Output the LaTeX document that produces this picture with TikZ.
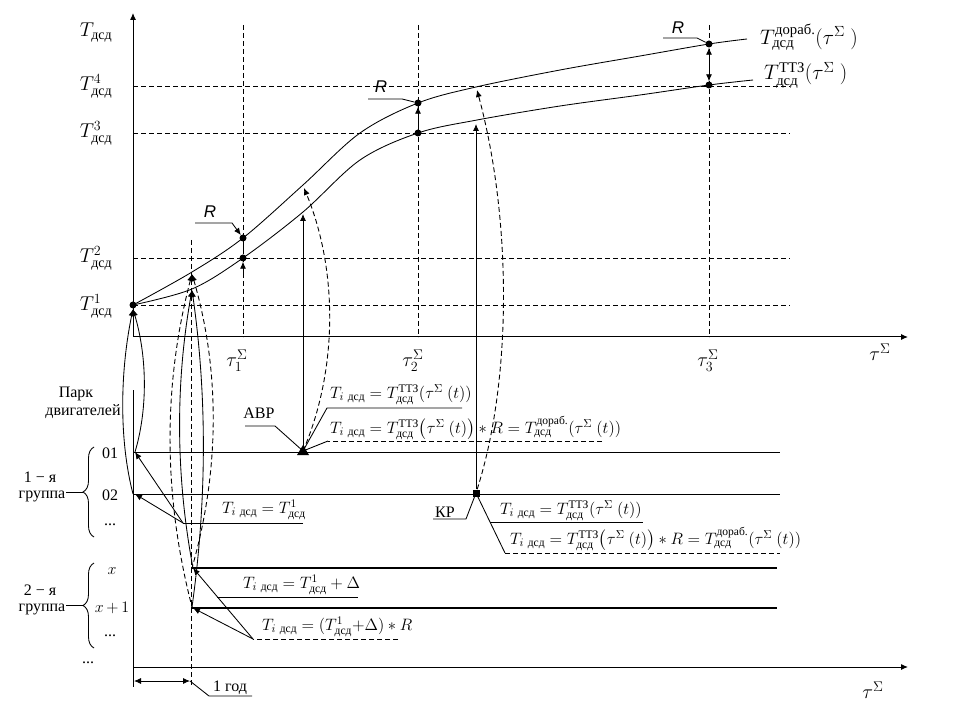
\RequirePackage{fix-cm}
\documentclass[tikz,border=0pt]{standalone}
\usepackage{amsmath}
\usepackage{fontspec}
\setmainfont{Liberation Serif}
\newfontfamily\rfont{Liberation Sans}
\usetikzlibrary{arrows.meta,decorations.pathreplacing}
\newcommand{\ds}{\text{дсд}}
\newcommand{\ttz}{\text{ТТЗ}}
\newcommand{\dor}{\text{дораб.}}
\begin{document}
\begin{tikzpicture}[x=1pt,y=-1pt,
  ax/.style={line width=1pt},
  dsh/.style={dash pattern=on 5pt off 3pt,line width=0.9pt},
  ln/.style={line width=0.85pt},
  thk/.style={line width=1.4pt},
  tip/.style={-{Latex[length=7pt,width=6pt]}},
  rtip/.style={{Latex[length=7pt,width=6pt]}-},
  dtip/.style={{Latex[length=7pt,width=6pt]}-{Latex[length=7pt,width=6pt]}},
  dot/.style={circle,fill,inner sep=0pt,minimum size=7pt},
  lbl/.style={inner sep=0pt,font=\fontsize{20}{22}\selectfont},
  clbl/.style={inner sep=0pt,anchor=west,font=\fontsize{21}{23}\selectfont},
  fml/.style={inner sep=0pt,anchor=base west,font=\fontsize{16.5}{18}\selectfont},
  txt/.style={inner sep=0pt,font=\fontsize{16}{18}\selectfont},
  rlab/.style={inner sep=0pt,font=\fontsize{17}{19}\selectfont\rfont\itshape},
  brc/.style={line width=0.85pt,decorate,decoration={brace,amplitude=11pt,mirror}},
]
\useasboundingbox (0,0) rectangle (956,727);
% ---------- coordinates ----------
\coordinate (O) at (133,337);
\coordinate (Ytop) at (133,13);
\coordinate (Xend) at (908,337);
\coordinate (P0) at (133,390);
\coordinate (P1) at (133,687);
\coordinate (B0) at (133,667);
\coordinate (Bend) at (908,667);
% ---------- axes ----------
\draw[ax,tip] (O) -- (Ytop);
\draw[ax,tip] (O) -- (Xend);
\draw[ax] (P0) -- (P1);
\draw[ax,tip] (B0) -- (Bend);
% ---------- axis labels ----------
\node[lbl] (tl) at (96,33) {$T_{\ds}$};
\node[lbl] (t4) at (96,86) {$T^{4}_{\ds}$};
\node[lbl] (t3) at (96,133) {$T^{3}_{\ds}$};
\node[lbl] (t2) at (96,258) {$T^{2}_{\ds}$};
\node[lbl] (t1) at (96,306) {$T^{1}_{\ds}$};
\node[lbl] (tau1) at (237,361) {$\tau^{\Sigma}_{1}$};
\node[lbl] (tau2) at (413,361) {$\tau^{\Sigma}_{2}$};
\node[lbl] (tau3) at (708,361) {$\tau^{\Sigma}_{3}$};
\node[lbl] (tauX) at (880,352) {$\tau^{\Sigma}$};
\node[lbl] (tauB) at (873,690) {$\tau^{\Sigma}$};
% ---------- dashed grid ----------
\draw[dsh] (133,86) -- (790,86);
\draw[dsh] (133,133) -- (790,133);
\draw[dsh] (133,258) -- (790,258);
\draw[dsh] (133,305) -- (790,305);
\draw[dsh] (243,25) -- (243,337);
\draw[dsh] (418,25) -- (418,337);
\draw[dsh] (709,25) -- (709,337);
\draw[dsh] (191,240) -- (191,686);
% ---------- curves ----------
\draw[ln] plot[smooth,tension=0.55] coordinates {(133,305) (192,272) (243,238) (303,185) (360,133) (418,103) (476,87) (560,70) (640,56) (709,44) (747,39)};
\draw[ln] plot[smooth,tension=0.55] coordinates {(133,305) (192,289) (243,258) (303,212) (360,160) (418,133) (477,120) (560,106) (640,95) (709,85) (753,80)};
\node[clbl] (cu) at (760,37) {$T^{\dor}_{\ds}(\tau^{\Sigma}\ )$};
\node[clbl] (cl) at (764,75) {$T^{\ttz}_{\ds}(\tau^{\Sigma}\ )$};
% ---------- points ----------
\node[dot] (a0) at (133,305) {};
\node[dot] (u1) at (243,238) {};
\node[dot] (l1) at (243,258) {};
\node[dot] (u2) at (418,103) {};
\node[dot] (l2) at (418,133) {};
\node[dot] (u3) at (709,44) {};
\node[dot] (l3) at (709,85) {};
\coordinate (uy) at (192,274);
\coordinate (ly) at (192,290);
% tau1
\draw[ln] (u1) -- (l1);
\coordinate (b1) at (243,278);
\draw[ln,tip] (b1) -- (l1);
\node[rlab] (R1) at (210,212) {R};
\coordinate (r1a) at (195,223);
\coordinate (r1b) at (232,223);
\draw[ln,tip] (r1a) -- (r1b) -- (u1);
% tau2
\draw[ln,tip] (l2) -- (u2);
\node[rlab] (R2) at (381,87) {R};
\coordinate (r2a) at (368,99);
\coordinate (r2b) at (402,99);
\draw[ln] (r2a) -- (r2b) -- (u2);
% tau3
\draw[ln,dtip] (u3) -- (l3);
\node[rlab] (R3) at (678,28) {R};
\coordinate (r3a) at (663,38);
\coordinate (r3b) at (697,38);
\draw[ln] (r3a) -- (r3b) -- (u3);
% ---------- park ----------
\node[txt] (park1) at (76,394) {Парк};
\node[txt] (park2) at (83,412) {двигателей};
\node[txt] (g1a) at (40,477) {1 − я};
\node[txt] (g1b) at (42,496) {группа};
\node[txt] (g2a) at (40,590) {2 − я};
\node[txt] (g2b) at (42,609) {группа};
\draw[brc] (94,447) -- (94,537);
\draw[ln] (83,492) -- (66,492);
\draw[brc] (94,563) -- (94,648);
\draw[ln] (83,605.5) -- (66,605.5);
\node[txt] (n01) at (110,453) {01};
\node[txt] (n02) at (110,495) {02};
\node[txt] (nd1) at (110,525) {...};
\node[txt] (nx) at (112,571) {$x$};
\node[txt] (nx1) at (112,608) {$x\,{+}\,1$};
\node[txt] (nd2) at (110,636) {...};
\node[txt] (nd3) at (88,663) {...};
% rows
\coordinate (r01) at (135,452);
\coordinate (r02) at (135,494);
\coordinate (rx) at (193,568);
\coordinate (rx1) at (193,608);
\draw[ln] (133,452) -- (780,452);
\draw[ln] (133,494) -- (780,494);
\draw[thk] (191,568) -- (777,568);
\draw[thk] (191,608) -- (777,608);
% ---------- lenses ----------
\coordinate (a0b) at (133,309);
\draw[ln,rtip] (a0b) .. controls (148,360) and (147,412) .. (r01);
\draw[ln,rtip] (a0b) .. controls (120,372) and (119,440) .. (133,494);
\draw[ln,rtip] (ly) .. controls (175,385) and (176,478) .. (rx);
\draw[ln,rtip] (ly) .. controls (207,395) and (207,500) .. (192,607);
\draw[dsh,rtip] (uy) .. controls (163,385) and (163,495) .. (192,607);
\draw[dsh,rtip] (uy) .. controls (220,370) and (220,470) .. (192,568);
% ---------- group 1 formula ----------
\node[fml] (f1) at (222,513) {$T_{i\ \ds}=T^{1}_{\ds}$};
\coordinate (g1) at (183,523);
\draw[ln] (303,523) -- (g1);
\draw[ln,tip] (g1) -- (r01);
\draw[ln,tip] (g1) -- (r02);
% ---------- group 2 formulas ----------
\node[fml] (f2) at (243,588) {$T_{i\ \ds}=T^{1}_{\ds}+\Delta$};
\node[fml] (f3) at (262,630) {$T_{i\ \ds}=(T^{1}_{\ds}{+}\Delta)*R$};
\coordinate (g2) at (253,639);
\draw[dsh] (398,639) -- (g2);
\draw[ln,tip] (g2) -- (rx);
\draw[ln,tip] (g2) -- (rx1);
\draw[ln] (217,597) -- (358,597);
% ---------- 1 year ----------
\coordinate (y0) at (134,681);
\coordinate (y1) at (190,681);
\draw[ln,dtip] (y0) -- (y1);
\node[txt] (yr) at (230,688) {1 год};
\draw[ln] (y1) -- (209,696) -- (252,696);
% ---------- ABP ----------
\coordinate (abp) at (303,451);
\fill (297,455) -- (309,455) -- (303,445) -- cycle;
\draw[ln,tip] (abp) -- (303,214);
\draw[dsh,tip] (abp) .. controls (338,370) and (338,270) .. (304,188);
\node[txt] (abpl) at (259,413) {АВР};
\draw[ln] (245,426) -- (275,426) -- (abp);
\node[fml] (fa1) at (330,398) {$T_{i\ \ds}=T^{\ttz}_{\ds}(\tau^{\Sigma}\ (t))$};
\draw[ln] (462,408) -- (327,408) -- (abp);
\node[fml] (fa2) at (330,433) {$T_{i\ \ds}=T^{\ttz}_{\ds}\big(\tau^{\Sigma}\ (t)\big)*R=T^{\dor}_{\ds}(\tau^{\Sigma}\ (t))$};
\draw[dsh] (602,441) -- (328,441);
\draw[ln] (328,441) -- (abp);
% ---------- KP ----------
\node[fill,minimum size=7pt,inner sep=0pt] (kp) at (476,493) {};
\draw[ln,tip] (kp) -- (476,124);
\draw[dsh,tip] (kp) .. controls (512,380) and (512,220) .. (477,90);
\node[txt] (kpl) at (445,512) {КР};
\draw[ln] (433,519) -- (466,519) -- (kp);
\node[fml] (fk1) at (500,514) {$T_{i\ \ds}=T^{\ttz}_{\ds}(\tau^{\Sigma}\ (t))$};
\draw[ln] (490,522) -- (643,522);
\draw[ln] (kp) -- (505,553);
\node[fml] (fk2) at (510,544) {$T_{i\ \ds}=T^{\ttz}_{\ds}\big(\tau^{\Sigma}\ (t)\big)*R=T^{\dor}_{\ds}(\tau^{\Sigma}\ (t))$};
\draw[dsh] (505,553) -- (780,553);
\end{tikzpicture}
\end{document}
